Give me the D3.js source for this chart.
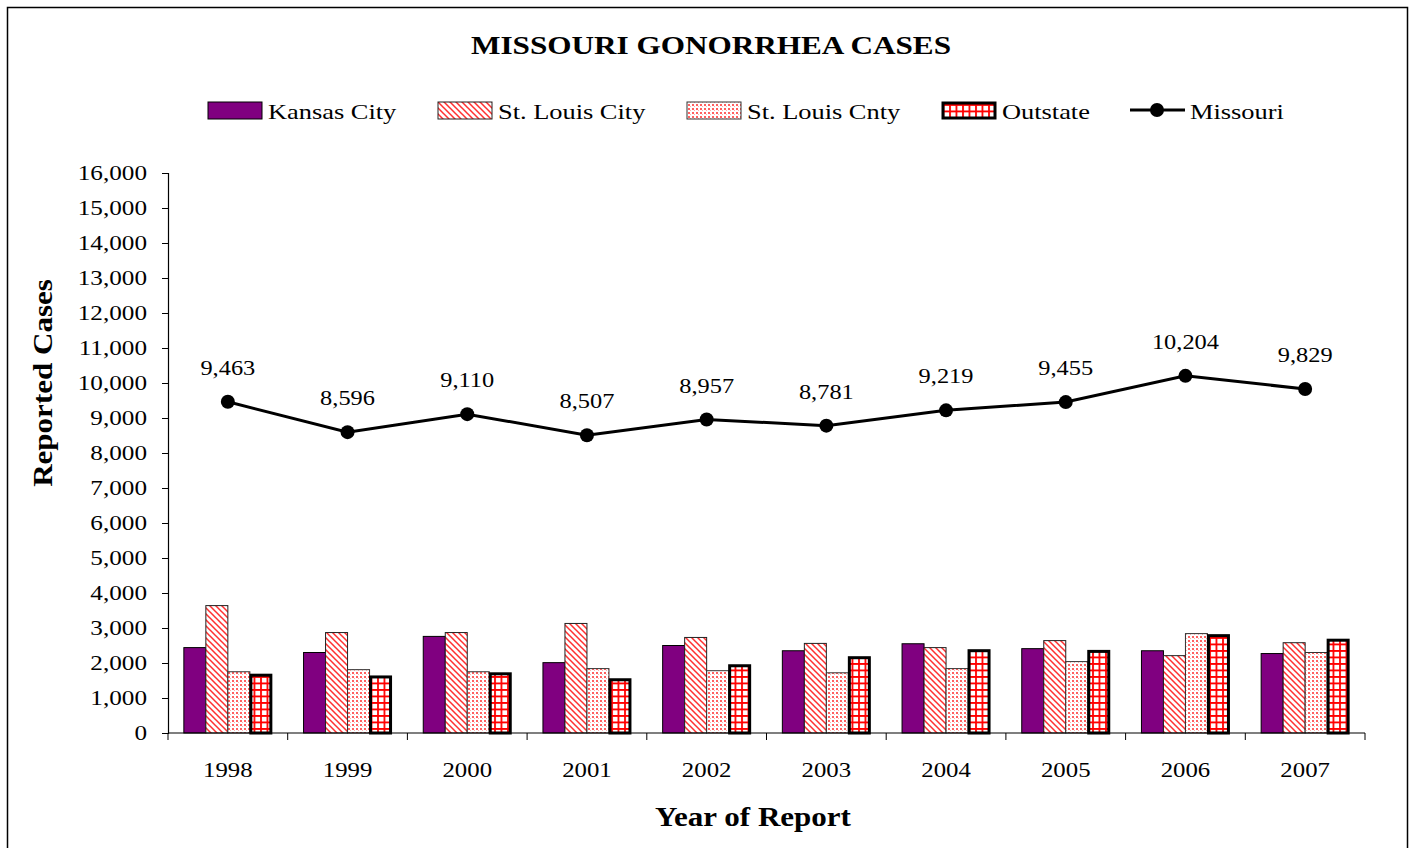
<!DOCTYPE html>
<html>
<head>
<meta charset="utf-8">
<script src="https://cdn.jsdelivr.net/npm/d3@7"></script>
<style>
  body { margin: 0; background: #fff; }
  svg text { font-family: "Liberation Serif", "Times New Roman", serif; fill: #000; }
</style>
</head>
<body>
<svg class="chartSVG" width="1413" height="848"></svg>
<script>
const years = ['1998','1999','2000','2001','2002','2003','2004','2005','2006','2007'];
const kansasCity = [2440, 2300, 2760, 2010, 2500, 2350, 2550, 2410, 2350, 2270];
const stLouisCity = [3640, 2870, 2870, 3130, 2730, 2560, 2440, 2640, 2210, 2580];
const stLouisCnty = [1750, 1810, 1750, 1840, 1780, 1720, 1840, 2040, 2840, 2300];
const outstate = [1680, 1630, 1720, 1550, 1950, 2180, 2380, 2360, 2810, 2680];
const missouri = [9463, 8596, 9110, 8507, 8957, 8781, 9219, 9455, 10204, 9829];
const seriesNames = ['Kansas City', 'St. Louis City', 'St. Louis Cnty', 'Outstate'];
const yTicks = d3.range(0, 16001, 1000);

const svg = d3.select('.chartSVG');
const margin = {l: 168, r: 48, t: 173, b: 115};
const width = 1413, height = 848;

// the reference font is wider than Liberation Serif, so stretch text horizontally
function stretch(sel, k) {
  sel.each(function() {
    const t = d3.select(this);
    const x = +t.attr('x') || 0, y = +t.attr('y') || 0;
    t.attr('x', 0).attr('y', 0).attr('transform', `translate(${x},${y}) scale(${k},1)`);
  });
}

// patterns
const defs = svg.append('defs');
const diag = defs.append('pattern').attr('id', 'diag')
  .attr('patternUnits', 'userSpaceOnUse').attr('width', 6).attr('height', 6);
diag.append('rect').attr('width', 6).attr('height', 6).attr('fill', '#fff');
diag.append('path').attr('d', 'M-1,-1 L7,7 M-4,2 L2,8 M4,-2 L10,4')
  .attr('stroke', '#ff3030').attr('stroke-width', 1.5);

const dots = defs.append('pattern').attr('id', 'dots')
  .attr('patternUnits', 'userSpaceOnUse').attr('width', 4).attr('height', 4);
dots.append('rect').attr('width', 4).attr('height', 4).attr('fill', '#fff');
dots.append('rect').attr('width', 2).attr('height', 2).attr('fill', '#ff6060');
dots.append('rect').attr('x', 2).attr('y', 2).attr('width', 1).attr('height', 1).attr('fill', '#ffb0b0');

const grid = defs.append('pattern').attr('id', 'grid')
  .attr('patternUnits', 'userSpaceOnUse').attr('width', 6.5).attr('height', 6.5);
grid.append('rect').attr('width', 6.5).attr('height', 6.5).attr('fill', '#fff');
grid.append('path').attr('d', 'M0,1 H6.5 M1,0 V6.5').attr('stroke', '#ff0000').attr('stroke-width', 1.8);

const fills = ['#800080', 'url(#diag)', 'url(#dots)', 'url(#grid)'];
const strokes = ['#000', '#222', '#333', '#000'];
const strokeW = [1, 1, 1, 3];

// frame
svg.append('rect').attr('x', 7.5).attr('y', 7.5).attr('width', 1400).attr('height', 860)
  .attr('fill', 'none').attr('stroke', '#000').attr('stroke-width', 1.5);

const scaleX = d3.scaleBand().domain(years).range([margin.l, width - margin.r]);
const scaleY = d3.scaleLinear().domain([0, 16000]).range([height - margin.b, margin.t]);
const groupW = 88;
const scaleSub = d3.scaleBand().domain(d3.range(4)).range([0, groupW]);

// y axis
svg.append('g')
  .attr('transform', `translate(${margin.l}, 0)`)
  .call(d3.axisLeft(scaleY).tickValues(yTicks).tickSize(6).tickPadding(15).tickFormat(d3.format(',')))
  .call(g => g.selectAll('text').style('font-size', '20px').attr('font-family', null))
  .call(g => stretch(g.selectAll('text'), 1.26))
  .call(g => g.select('.domain').attr('stroke-width', 1.2));

// bars
const allSeries = [kansasCity, stLouisCity, stLouisCnty, outstate];
allSeries.forEach((vals, s) => {
  svg.append('g').selectAll('rect')
    .data(vals)
    .enter().append('rect')
    .attr('x', (d, i) => scaleX(years[i]) + scaleX.bandwidth() / 2 - groupW / 2 + scaleSub(s) + (s === 3 ? 1 : 0))
    .attr('y', d => scaleY(d) + (s === 3 ? 1 : 0))
    .attr('width', scaleSub.bandwidth() - (s === 3 ? 2 : 0))
    .attr('height', d => scaleY(0) - scaleY(d) - (s === 3 ? 1 : 0))
    .attr('fill', fills[s])
    .attr('stroke', strokes[s])
    .attr('stroke-width', strokeW[s]);
});

// x axis
const xAxisG = svg.append('g').attr('transform', `translate(0, ${scaleY(0)})`);
xAxisG.append('line').attr('x1', margin.l).attr('x2', width - margin.r)
  .attr('stroke', '#000').attr('stroke-width', 1.2);
xAxisG.selectAll('.xt').data(years.concat(['end']))
  .enter().append('line')
  .attr('x1', (d, i) => margin.l + i * scaleX.step())
  .attr('x2', (d, i) => margin.l + i * scaleX.step())
  .attr('y1', 0).attr('y2', 7).attr('stroke', '#000');
xAxisG.selectAll('.xl').data(years)
  .enter().append('text')
  .attr('x', d => scaleX(d) + scaleX.bandwidth() / 2)
  .attr('y', 44)
  .attr('text-anchor', 'middle')
  .style('font-size', '20px')
  .text(d => d)
  .call(sel => stretch(sel, 1.24));

// missouri line
const line = d3.line()
  .x((d, i) => scaleX(years[i]) + scaleX.bandwidth() / 2)
  .y(d => scaleY(d));
svg.append('path').datum(missouri)
  .attr('d', line).attr('fill', 'none').attr('stroke', '#000').attr('stroke-width', 3);
svg.append('g').selectAll('circle').data(missouri)
  .enter().append('circle')
  .attr('cx', (d, i) => scaleX(years[i]) + scaleX.bandwidth() / 2)
  .attr('cy', d => scaleY(d))
  .attr('r', 7).attr('fill', '#000');
svg.append('g').selectAll('text').data(missouri)
  .enter().append('text')
  .attr('x', (d, i) => scaleX(years[i]) + scaleX.bandwidth() / 2)
  .attr('y', d => scaleY(d) - 27)
  .attr('text-anchor', 'middle')
  .style('font-size', '20px')
  .text(d => d3.format(',')(d))
  .call(sel => stretch(sel, 1.22));

// titles
svg.append('text').attr('x', 711).attr('y', 54).attr('text-anchor', 'middle')
  .style('font-size', '26px').style('font-weight', 'bold')
  .text('MISSOURI GONORRHEA CASES')
  .call(sel => stretch(sel, 1.2));
svg.append('text').attr('x', 753).attr('y', 826).attr('text-anchor', 'middle')
  .style('font-size', '27px').style('font-weight', 'bold')
  .text('Year of Report')
  .call(sel => stretch(sel, 1.15));
svg.append('text')
  .attr('transform', `translate(52, ${scaleY(10000)}) rotate(-90) scale(1.15,1)`)
  .attr('text-anchor', 'middle')
  .style('font-size', '27px').style('font-weight', 'bold')
  .text('Reported Cases');

// legend
const legendX = [208, 438, 687, 942];
const legend = svg.append('g');
seriesNames.forEach((name, s) => {
  legend.append('rect')
    .attr('x', legendX[s] + (s === 3 ? 1 : 0)).attr('y', 102 + (s === 3 ? 1 : 0))
    .attr('width', 54 - (s === 3 ? 2 : 0)).attr('height', 17 - (s === 3 ? 2 : 0))
    .attr('fill', fills[s]).attr('stroke', strokes[s]).attr('stroke-width', strokeW[s]);
  legend.append('text').attr('x', legendX[s] + 60).attr('y', 119)
    .style('font-size', '22px').text(name)
    .call(sel => stretch(sel, 1.2));
});
legend.append('line').attr('x1', 1130).attr('x2', 1185).attr('y1', 110).attr('y2', 110)
  .attr('stroke', '#000').attr('stroke-width', 3);
legend.append('circle').attr('cx', 1157).attr('cy', 110).attr('r', 7).attr('fill', '#000');
legend.append('text').attr('x', 1190).attr('y', 119).style('font-size', '22px').text('Missouri')
  .call(sel => stretch(sel, 1.2));
</script>
</body>
</html>
